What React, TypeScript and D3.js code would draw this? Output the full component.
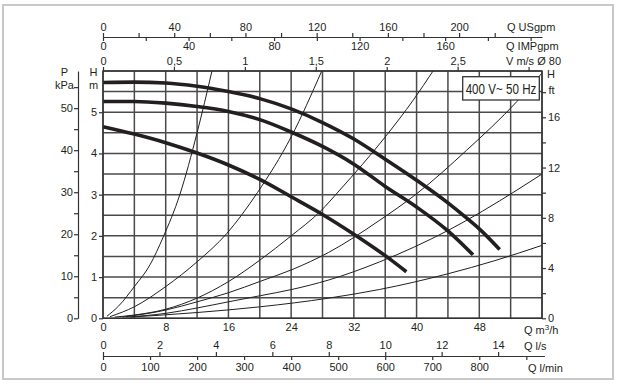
import React, { useEffect, useRef } from 'react';
import * as d3 from 'd3';

// pump curves, H [m] vs Q [m3/h]
const pumpHigh: [number, number][] = [
  [0, 5.72], [4, 5.73], [8, 5.71], [12, 5.63], [16, 5.5], [20, 5.33], [24, 5.08],
  [28, 4.75], [32, 4.35], [36, 3.86], [40, 3.35], [44, 2.8], [46.4, 2.43], [48, 2.17], [50.6, 1.67],
];
const pumpMid: [number, number][] = [
  [0, 5.26], [4, 5.26], [8, 5.22], [12, 5.14], [16, 5.02], [20, 4.82], [24, 4.52],
  [28, 4.17], [32, 3.74], [36, 3.2], [40, 2.7], [44, 2.12], [47.2, 1.54],
];
const pumpLow: [number, number][] = [
  [0, 4.65], [4, 4.47], [8, 4.26], [12, 4.01], [16, 3.72], [20, 3.37], [24, 2.95],
  [28, 2.52], [32, 2.04], [36, 1.52], [38.7, 1.13],
];

// system curves (thin lines)
const sysA: [number, number][] = [[0.5, 0.05], [2, 0.3], [4, 0.77], [6, 1.3], [7.7, 1.98], [9.8, 3.0], [12, 4.5], [13.9, 6.0]];
const sysB: [number, number][] = [[0.9, 0.04], [4, 0.28], [8, 0.77], [12, 1.37], [15.8, 2.06], [19.7, 3.05], [24, 4.4], [27.9, 6.0]];
const sysC: [number, number][] = [
  [1.5, 0.03], [4, 0.08], [8, 0.22], [12, 0.49], [16, 0.89], [20, 1.41], [24, 2.0],
  [27.7, 2.59], [30.2, 3.11], [36, 4.4], [39.6, 5.3], [42.1, 6.0],
];
const sysD: [number, number][] = [
  [2.5, 0.03], [8, 0.2], [12, 0.4], [16, 0.62], [20.1, 0.9], [24.1, 1.18], [28.8, 1.6],
  [35.3, 2.38], [40, 3.02], [46.4, 4.08], [52.8, 5.26], [56, 5.95],
];
const sysE: [number, number][] = [
  [3, 0.03], [8, 0.12], [12, 0.25], [16, 0.4], [20.1, 0.55], [24.1, 0.7], [28.8, 0.93],
  [35.3, 1.37], [44, 2.13], [52.8, 3.11], [56, 3.5],
];
const sysF: [number, number][] = [[3.5, 0.03], [12, 0.14], [20.1, 0.28], [28.8, 0.49], [35.3, 0.7], [44, 1.08], [50, 1.4], [56, 1.77]];

const gridQ = [0, 4, 8, 12, 16, 20, 24, 28, 32, 36, 40, 44, 48, 52, 56];
const gridH = [0, 0.5, 1, 1.5, 2, 2.5, 3, 3.5, 4, 4.5, 5, 5.5, 6];

const ticksM3h = [0, 8, 16, 24, 32, 40, 48];
const ticksHm = [0, 1, 2, 3, 4, 5];
const ticksKpa = [0, 5, 10, 15, 20, 25, 30, 35, 40, 45, 50, 55];
const labelsKpa = [0, 10, 20, 30, 40, 50];
const ticksFt = [0, 2, 4, 6, 8, 10, 12, 14, 16, 18];
const labelsFt = [0, 4, 8, 12, 16];
const ticksUs = [0, 20, 40, 60, 80, 100, 120, 140, 160, 180, 200, 220];
const labelsUs = [0, 40, 80, 120, 160, 200];
const ticksImp = [0, 20, 40, 60, 80, 100, 120, 140, 160, 180, 200];
const labelsImp = [0, 40, 80, 120, 160];
const ticksVel = [0, 0.5, 1, 1.5, 2, 2.5, 3];
const labelsVel = [0, 0.5, 1, 1.5, 2, 2.5];
const ticksLs = [0, 2, 4, 6, 8, 10, 12, 14];
const ticksLmin = [0, 100, 200, 300, 400, 500, 600, 700, 800, 900];
const labelsLmin = [0, 100, 200, 300, 400, 500, 600, 700, 800];

const Q_MAX = 56;
const H_MAX = 6;
const M3H_PER_USGPM = 0.227125;
const M3H_PER_IMPGPM = 0.272765;
const M3H_PER_LS = 3.6;
const M3H_PER_LMIN = 0.06;
const M3H_PER_MS = Math.PI * 0.04 * 0.04 * 3600; // DN80 pipe
const KPA_PER_M = 9.80665;
const FT_PER_M = 1 / 0.3048;

const FONT = "'Liberation Sans', Arial, sans-serif";
const INK = '#231f20';

const PumpChart: React.FC = () => {
  const ref = useRef<SVGSVGElement>(null);

  useEffect(() => {
    if (!ref.current) return;
    const svg = d3.select(ref.current);
    svg.selectAll('*').remove();

    const left = 103, right = 542, top = 71, bottom = 318.3;
    const x = d3.scaleLinear().domain([0, Q_MAX]).range([left, right]);
    const y = d3.scaleLinear().domain([0, H_MAX]).range([bottom, top]);
    const yKpa = d3.scaleLinear().domain([0, H_MAX * KPA_PER_M]).range([bottom, top]);
    const yFt = d3.scaleLinear().domain([0, H_MAX * FT_PER_M]).range([bottom, top]);
    const xUs = d3.scaleLinear().domain([0, Q_MAX / M3H_PER_USGPM]).range([left, right]);
    const xImp = d3.scaleLinear().domain([0, Q_MAX / M3H_PER_IMPGPM]).range([left, right]);
    const xVel = d3.scaleLinear().domain([0, Q_MAX / M3H_PER_MS]).range([left, right]);
    const xLs = d3.scaleLinear().domain([0, Q_MAX / M3H_PER_LS]).range([left, right]);
    const xLmin = d3.scaleLinear().domain([0, Q_MAX / M3H_PER_LMIN]).range([left, right]);

    // outer frame
    svg.append('rect')
      .attr('x', 3).attr('y', 5).attr('width', 610).attr('height', 374)
      .attr('fill', '#fff').attr('stroke', '#c8c8c8').attr('stroke-width', 2);

    // grid
    const grid = svg.append('g').attr('stroke', '#4a4a4a').attr('stroke-width', 1.5);
    grid.selectAll('.gx').data(gridQ).join('line')
      .attr('x1', d => x(d)).attr('x2', d => x(d)).attr('y1', top).attr('y2', bottom);
    grid.selectAll('.gy').data(gridH).join('line')
      .attr('y1', d => y(d)).attr('y2', d => y(d)).attr('x1', left).attr('x2', right);

    const line = d3.line<[number, number]>()
      .x(d => x(d[0]))
      .y(d => y(d[1]))
      .curve(d3.curveMonotoneX);

    const plot = svg.append('g');
    plot.selectAll('.sys').data([sysA, sysB, sysC, sysD, sysE, sysF]).join('path')
      .attr('d', d => line(d))
      .attr('fill', 'none').attr('stroke', INK).attr('stroke-width', 1);
    plot.selectAll('.pump').data([pumpHigh, pumpMid, pumpLow]).join('path')
      .attr('d', d => line(d))
      .attr('fill', 'none').attr('stroke', INK).attr('stroke-width', 3.6);

    // plot border
    svg.append('rect')
      .attr('x', left).attr('y', top).attr('width', right - left).attr('height', bottom - top)
      .attr('fill', 'none').attr('stroke', '#333').attr('stroke-width', 1.4);

    const styleAxis = (g: d3.Selection<SVGGElement, unknown, null, undefined>) => {
      g.attr('font-family', FONT).attr('font-size', 11);
      g.selectAll('.domain').attr('stroke', '#333').attr('stroke-width', 1.2);
      g.selectAll('.tick line').attr('stroke', '#333').attr('stroke-width', 1.2);
      g.selectAll('.tick text').attr('fill', INK);
      g.selectAll<SVGTextElement, unknown>('.tick text')
        .filter(function () { return !this.textContent; })
        .remove();
    };
    const only = (list: number[], fmt: (d: number) => string = String) =>
      (d: d3.NumberValue) => (list.includes(+d) ? fmt(+d) : '');

    // left H m
    svg.append('g').attr('transform', `translate(${left},0)`)
      .call(d3.axisLeft(y).tickValues(ticksHm).tickSize(4).tickPadding(2).tickSizeOuter(0)
        .tickFormat(d => String(d)))
      .call(styleAxis)
      .call(g => g.select('.domain').remove());

    // left kPa
    svg.append('g').attr('transform', 'translate(78,0)')
      .call(d3.axisLeft(yKpa).tickValues(ticksKpa).tickSize(4).tickPadding(1).tickSizeOuter(0)
        .tickFormat(only(labelsKpa)))
      .call(styleAxis);

    // right ft
    svg.append('g').attr('transform', `translate(${right},0)`)
      .call(d3.axisRight(yFt).tickValues(ticksFt).tickSize(4).tickPadding(2).tickSizeOuter(0)
        .tickFormat(only(labelsFt)))
      .call(styleAxis)
      .call(g => g.select('.domain').remove());

    // bottom m3/h labels
    svg.append('g').attr('transform', `translate(0,${bottom})`)
      .call(d3.axisBottom(x).tickValues(ticksM3h).tickSize(0).tickPadding(5).tickFormat(d => String(d)))
      .call(styleAxis)
      .call(g => g.select('.domain').remove());

    // top USgpm / IMPgpm
    svg.append('g').attr('transform', 'translate(0,37)')
      .call(d3.axisTop(xUs).tickValues(ticksUs).tickSize(4).tickPadding(2).tickSizeOuter(0)
        .tickFormat(only(labelsUs)))
      .call(styleAxis);
    svg.append('g').attr('transform', 'translate(0,37)')
      .call(d3.axisBottom(xImp).tickValues(ticksImp).tickSize(4).tickPadding(1.5).tickSizeOuter(0)
        .tickFormat(only(labelsImp)))
      .call(styleAxis)
      .call(g => g.select('.domain').remove());

    // velocity in DN80
    svg.append('g').attr('transform', `translate(0,${top})`)
      .call(d3.axisTop(xVel).tickValues(ticksVel).tickSize(4).tickPadding(2).tickSizeOuter(0)
        .tickFormat(only(labelsVel, d => String(d).replace('.', ','))))
      .call(styleAxis)
      .call(g => g.select('.domain').remove());

    // bottom l/s and l/min
    svg.append('g').attr('transform', 'translate(0,356)')
      .call(d3.axisTop(xLs).tickValues(ticksLs).tickSize(4).tickPadding(3).tickSizeOuter(0)
        .tickFormat(d => String(d)))
      .call(styleAxis)
      .call(g => g.select('.domain').attr('d', `M${left},0.5H545`));
    svg.append('g').attr('transform', 'translate(0,356)')
      .call(d3.axisBottom(xLmin).tickValues(ticksLmin).tickSize(4).tickPadding(3).tickSizeOuter(0)
        .tickFormat(only(labelsLmin)))
      .call(styleAxis)
      .call(g => g.select('.domain').remove());

    // axis titles
    const txt = svg.append('g').attr('font-family', FONT).attr('font-size', 11).attr('fill', INK);
    const label = (s: string, tx: number, ty: number, anchor = 'start') =>
      txt.append('text').attr('x', tx).attr('y', ty).attr('text-anchor', anchor).text(s);
    label('P', 64.5, 76, 'middle');
    label('kPa', 64.5, 89, 'middle');
    label('H', 93.5, 76, 'middle');
    label('m', 93.5, 89, 'middle');
    label('H', 547, 78);
    label('ft', 548.5, 94);
    label('Q USgpm', 507, 31);
    label('Q IMPgpm', 506, 50);
    label('V m/s Ø 80', 506, 65);
    label('Q l/s', 524, 350);
    label('Q l/min', 528, 372);
    const m3 = label('Q m', 524, 334);
    m3.append('tspan').attr('font-size', 8).attr('dy', -4).text('3');
    m3.append('tspan').attr('dy', 4).text('/h');

    // legend box (narrow lettering, as on the sheet)
    svg.append('rect')
      .attr('x', 462.7).attr('y', 76.7).attr('width', 76.6).attr('height', 23.3)
      .attr('fill', '#fff').attr('stroke', '#333').attr('stroke-width', 1.3);
    svg.append('text')
      .attr('transform', 'translate(501,93.5) scale(0.83,1)')
      .attr('text-anchor', 'middle')
      .attr('font-family', FONT).attr('font-size', 14).attr('fill', INK)
      .text('400 V~ 50 Hz');
  }, []);

  return (
    <svg
      ref={ref}
      width={618}
      height={384}
      style={{ position: 'absolute', left: 0, top: 0, background: '#fff' }}
    />
  );
};

export default function App() {
  return <PumpChart />;
}
